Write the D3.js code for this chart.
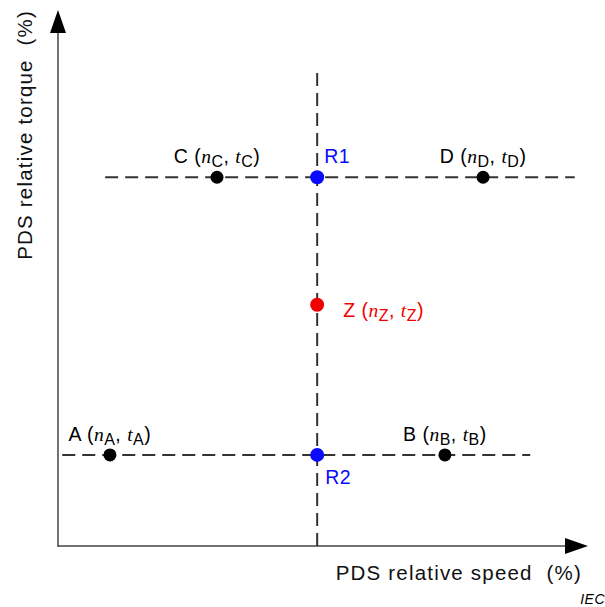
<!DOCTYPE html>
<html>
<head>
<meta charset="utf-8">
<script src="https://cdn.jsdelivr.net/npm/d3@7"></script>
<style>
body { margin: 0; background: #fff; }
text { font-family: "Liberation Sans", Arial, sans-serif; white-space: pre; }
.it { font-family: "Liberation Serif", "Times New Roman", serif; font-style: italic; }
</style>
</head>
<body>
<div id="chart"></div>
<script>
var width = 605, height = 607;

// relative speed / torque of the operating points (% of the axis range)
var pointNames = ["C", "R1", "D", "Z", "A", "R2", "B"];
var pointSpeed = [30.0, 48.9, 80.2, 48.9, 9.8, 48.9, 73.0];
var pointTorque = [68.8, 68.8, 68.8, 45.0, 17.0, 17.0, 17.0];
var pointKind = ["corner", "ref", "corner", "test", "corner", "ref", "corner"];

// dashed construction lines: [speed, torque] start and end
var guideStart = [[48.9, 0], [8.9, 68.8], [0.8, 17.0]];
var guideEnd = [[48.9, 89.2], [97.5, 68.8], [89.1, 17.0]];

var xLabel = "PDS relative speed  (%)";
var yLabel = "PDS relative torque  (%)";

var colors = { corner: "#000", ref: "#0a0aff", test: "#f00000" };

var x = d3.scaleLinear().domain([0, 100]).range([58, 588]);
var y = d3.scaleLinear().domain([0, 100]).range([546, 10]);

var svg = d3.select("#chart").append("svg")
    .attr("width", width)
    .attr("height", height);

// axes with arrow heads
svg.append("line")
    .attr("x1", x(0)).attr("y1", y(0))
    .attr("x2", x(100) - 20).attr("y2", y(0))
    .attr("stroke", "#444").attr("stroke-width", 1.5);
svg.append("line")
    .attr("x1", x(0)).attr("y1", y(0) + 1)
    .attr("x2", x(0)).attr("y2", y(100) + 20)
    .attr("stroke", "#444").attr("stroke-width", 1.5);
svg.append("path")
    .attr("d", "M" + x(100) + "," + y(0) + "L" + (x(100) - 23) + "," + (y(0) - 8) + "L" + (x(100) - 23) + "," + (y(0) + 8) + "Z")
    .attr("fill", "#000");
svg.append("path")
    .attr("d", "M" + x(0) + "," + y(100) + "L" + (x(0) - 8) + "," + (y(100) + 23) + "L" + (x(0) + 8) + "," + (y(100) + 23) + "Z")
    .attr("fill", "#000");

// dashed guides
svg.selectAll(".guide")
    .data(d3.range(guideStart.length))
    .enter().append("line")
    .attr("class", "guide")
    .attr("x1", function (i) { return x(guideStart[i][0]); })
    .attr("y1", function (i) { return y(guideStart[i][1]); })
    .attr("x2", function (i) { return x(guideEnd[i][0]); })
    .attr("y2", function (i) { return y(guideEnd[i][1]); })
    .attr("stroke", "#333")
    .attr("stroke-width", 2)
    .attr("stroke-dasharray", "13,7");

// points
var pts = d3.range(pointNames.length).map(function (i) {
    return { name: pointNames[i], sx: pointSpeed[i], ty: pointTorque[i], kind: pointKind[i] };
});

svg.selectAll(".pt")
    .data(pts)
    .enter().append("circle")
    .attr("class", "pt")
    .attr("cx", function (d) { return x(d.sx); })
    .attr("cy", function (d) { return y(d.ty); })
    .attr("r", function (d) { return d.kind == "corner" ? 6.5 : 7; })
    .attr("fill", function (d) { return colors[d.kind]; });

// labels like "C (nC, tC)" with italic symbols and subscripts
function coordLabel(g, name) {
    g.append("tspan").text(name + " (");
    g.append("tspan").attr("class", "it").text("n");
    g.append("tspan").attr("font-size", 16).attr("dy", 4).text(name);
    g.append("tspan").attr("dy", -4).text(", ");
    g.append("tspan").attr("class", "it").text("t");
    g.append("tspan").attr("font-size", 16).attr("dy", 4).text(name);
    g.append("tspan").attr("dy", -4).text(")");
}

pts.forEach(function (d) {
    var t = svg.append("text")
        .attr("font-size", 19.5)
        .attr("letter-spacing", 0.5)
        .attr("fill", colors[d.kind]);
    if (d.kind == "corner") {
        t.attr("x", x(d.sx)).attr("y", y(d.ty) - 14).attr("text-anchor", "middle");
        coordLabel(t, d.name);
    } else if (d.kind == "test") {
        t.attr("x", x(d.sx) + 26).attr("y", y(d.ty) + 12);
        coordLabel(t, d.name);
    } else if (d.name == "R1") {
        t.attr("x", x(d.sx) + 7).attr("y", y(d.ty) - 14).text(d.name);
    } else {
        t.attr("x", x(d.sx) + 8).attr("y", y(d.ty) + 29).text(d.name);
    }
});

// axis titles
svg.append("text")
    .attr("x", 582).attr("y", 580)
    .attr("text-anchor", "end")
    .attr("font-size", 20.5)
    .attr("letter-spacing", 1.2)
    .attr("fill", "#111")
    .text(xLabel);

svg.append("text")
    .attr("transform", "translate(32,10) rotate(-90)")
    .attr("text-anchor", "end")
    .attr("font-size", 20.5)
    .attr("letter-spacing", 1.2)
    .attr("fill", "#111")
    .text(yLabel);

svg.append("text")
    .attr("x", 605).attr("y", 604)
    .attr("text-anchor", "end")
    .attr("font-size", 14)
    .attr("font-style", "italic")
    .attr("letter-spacing", 0.5)
    .text("IEC");
</script>
</body>
</html>
